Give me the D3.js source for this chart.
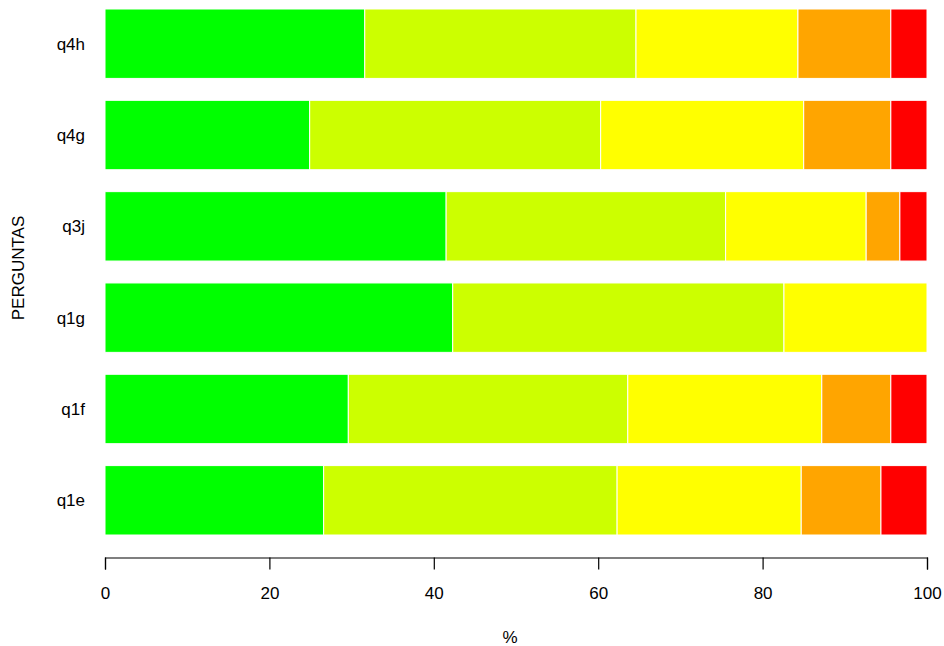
<!DOCTYPE html>
<html>
<head>
<meta charset="utf-8">
<script src="https://cdn.jsdelivr.net/npm/d3@7"></script>
<style>
  html, body { margin: 0; padding: 0; background: #ffffff; }
  svg { display: block; }
  text { font-family: "Liberation Sans", Arial, sans-serif; fill: #000; }
</style>
</head>
<body>
<svg id="chart" width="944" height="646"></svg>
<script>
// ---- data (bottom to top, as in the picture) ----
const categories = ["q1e", "q1f", "q1g", "q3j", "q4g", "q4h"];
const levels = ["1", "2", "3", "4", "5"];
const level1 = [26.6, 29.6, 42.3, 41.5, 24.9, 31.6];
const level2 = [35.7, 34.0, 40.3, 34.0, 35.4, 33.0];
const level3 = [22.4, 23.6, 17.4, 17.1, 24.7, 19.7];
const level4 = [9.7, 8.4, 0.0, 4.1, 10.6, 11.3];
const level5 = [5.6, 4.4, 0.0, 3.3, 4.4, 4.4];
const levelColors = ["#00FF00", "#CCFF00", "#FFFF00", "#FFA500", "#FF0000"];
const xTicks = [0, 20, 40, 60, 80, 100];
const xTitle = "%";
const yTitle = "PERGUNTAS";

// ---- table built from the arrays ----
const seriesArrays = [level1, level2, level3, level4, level5];
const table = categories.map((c, i) => {
  const row = { cat: c };
  levels.forEach((l, j) => { row[l] = seriesArrays[j][i]; });
  return row;
});

const svg = d3.select("#chart");
const FS = "17px";

const x = d3.scaleLinear().domain([0, 100]).range([105, 927]);
const step = (535 - 9) / (categories.length - 0.24);
const y = d3.scaleBand()
  .domain(categories.slice().reverse())
  .range([9 - 0.12 * step, 535 + 0.12 * step])
  .paddingInner(0.24)
  .paddingOuter(0.12);

const stack = d3.stack().keys(levels);
const stacked = stack(table);
const color = d3.scaleOrdinal().domain(levels).range(levelColors);

svg.append("g")
  .selectAll("g")
  .data(stacked)
  .join("g")
  .attr("fill", d => color(d.key))
  .selectAll("rect")
  .data(d => d.filter(p => p[1] - p[0] > 0))
  .join("rect")
  .attr("x", d => x(d[0]))
  .attr("y", d => y(d.data.cat))
  .attr("width", d => x(d[1]) - x(d[0]))
  .attr("height", y.bandwidth())
  .attr("stroke", "#ffffff")
  .attr("stroke-width", 1);

// x axis
const xAxis = d3.axisBottom(x)
  .tickValues(xTicks)
  .tickFormat(d3.format("d"))
  .tickSize(12)
  .tickSizeOuter(12)
  .tickPadding(17);
const gx = svg.append("g")
  .attr("transform", "translate(0,557.5)")
  .call(xAxis);
gx.select(".domain").attr("stroke", "#000").attr("stroke-width", 1.2);
gx.selectAll(".tick line").attr("stroke", "#000").attr("stroke-width", 1.2);
gx.selectAll(".tick text")
  .style("font-family", '"Liberation Sans", Arial, sans-serif')
  .style("font-size", FS)
  .attr("fill", "#000");

// y category labels
svg.append("g")
  .selectAll("text")
  .data(categories)
  .join("text")
  .attr("x", 85)
  .attr("y", d => y(d) + y.bandwidth() / 2)
  .attr("dy", "0.36em")
  .attr("text-anchor", "end")
  .style("font-size", FS)
  .text(d => d);

// titles
svg.append("text")
  .attr("x", 510)
  .attr("y", 637)
  .attr("dy", "0.36em")
  .attr("text-anchor", "middle")
  .style("font-size", FS)
  .text(xTitle);

svg.append("text")
  .attr("transform", "translate(18,268) rotate(-90)")
  .attr("dy", "0.36em")
  .attr("text-anchor", "middle")
  .style("font-size", FS)
  .text(yTitle);
</script>
</body>
</html>
